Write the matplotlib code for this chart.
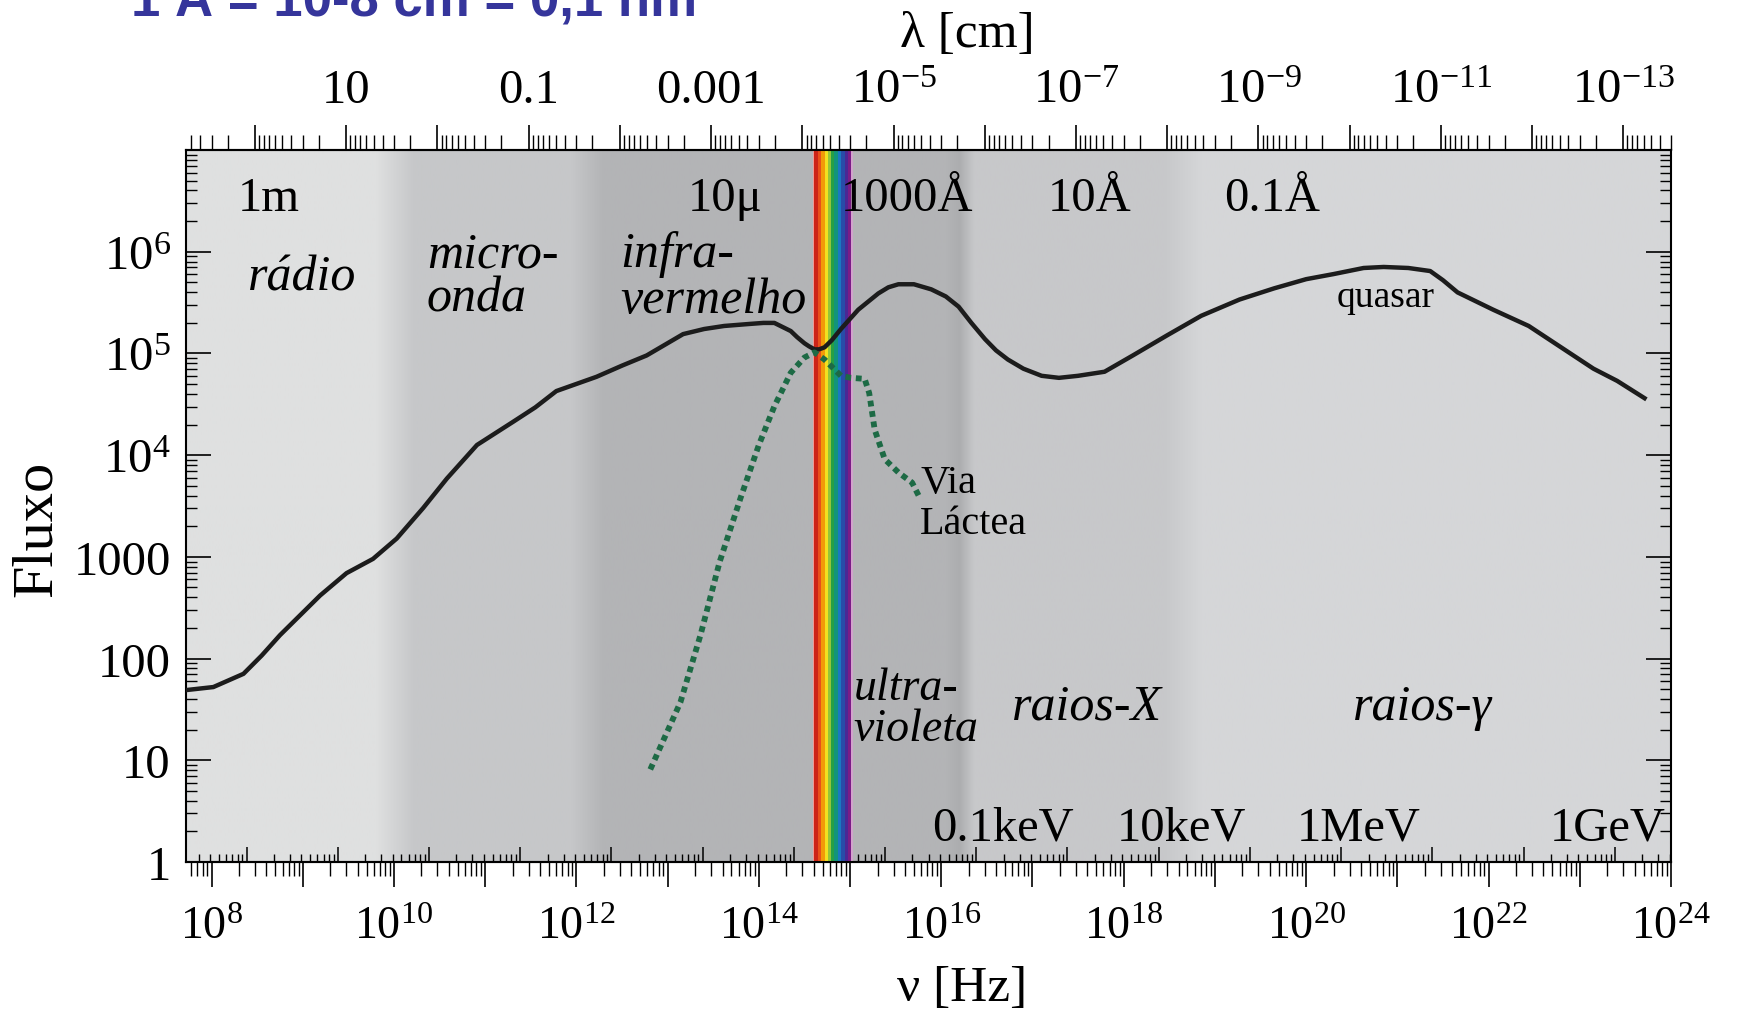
import numpy as np
import matplotlib.pyplot as plt
from matplotlib import ticker, font_manager
from matplotlib.colors import to_rgb

plt.rcParams['font.family'] = 'Liberation Serif'
plt.rcParams['mathtext.fontset'] = 'custom'
plt.rcParams['mathtext.rm'] = 'Liberation Serif'
plt.rcParams['mathtext.it'] = 'Liberation Serif:italic'

C_CM = 2.998e10      # speed of light [cm/s]
H_EV = 4.1357e-15    # Planck constant [eV s]

# quasar spectrum: log10(nu [Hz]) and log10(flux)
quasar_lognu = np.array([7.72, 8.02, 8.35, 8.55, 8.75, 9.19, 9.48, 9.77, 10.03, 10.32,
                         10.58, 10.91, 11.31, 11.55, 11.78, 12.22, 12.50, 12.77, 13.17, 13.40,
                         13.62, 13.90, 14.05, 14.17, 14.35, 14.42, 14.50, 14.55, 14.61, 14.66,
                         14.72, 14.80, 14.90, 15.00, 15.09, 15.31, 15.42, 15.53, 15.70, 15.89,
                         16.05, 16.19, 16.33, 16.48, 16.60, 16.73, 16.90, 17.10, 17.29, 17.50,
                         17.79, 18.10, 18.48, 18.85, 19.27, 19.65, 20.00, 20.30, 20.63, 20.85,
                         21.12, 21.36, 21.50, 21.66, 22.05, 22.44, 22.93, 23.15, 23.41, 23.71])
quasar_logflux = np.array([1.69, 1.72, 1.85, 2.03, 2.23, 2.62, 2.84, 2.98, 3.18, 3.48,
                           3.77, 4.10, 4.33, 4.47, 4.63, 4.77, 4.88, 4.98, 5.19, 5.24,
                           5.27, 5.29, 5.30, 5.30, 5.22, 5.16, 5.10, 5.07, 5.04, 5.04,
                           5.06, 5.13, 5.24, 5.34, 5.43, 5.59, 5.65, 5.68, 5.68, 5.63,
                           5.56, 5.46, 5.30, 5.14, 5.03, 4.94, 4.85, 4.78, 4.76, 4.78,
                           4.82, 4.98, 5.18, 5.37, 5.53, 5.64, 5.73, 5.78, 5.84, 5.85,
                           5.84, 5.81, 5.72, 5.60, 5.43, 5.27, 4.98, 4.85, 4.73, 4.56])

# Milky Way spectrum
milkyway_lognu = np.array([12.81, 12.98, 13.14, 13.36, 13.57, 13.80, 14.00, 14.17, 14.35, 14.50,
                           14.61, 14.72, 14.90, 15.01, 15.16, 15.21, 15.27, 15.38, 15.53, 15.68,
                           15.77])
milkyway_logflux = np.array([0.91, 1.25, 1.57, 2.23, 2.95, 3.58, 4.10, 4.48, 4.81, 4.96,
                             5.01, 4.94, 4.78, 4.76, 4.75, 4.61, 4.25, 3.96, 3.83, 3.73,
                             3.57])

lognu_min, lognu_max = 7.72, 24.0
flux_min, flux_max = 1.0, 1e7

flux_labels = ['1', '10', '100', '1000', r'$10^4$', r'$10^5$', r'$10^6$', '']

wavelength_marks = ['1m', '10μ', '1000Å', '10Å', '0.1Å']
wavelength_marks_cm = [1e2, 1e-3, 1e-5, 1e-7, 1e-9]

energy_marks = ['0.1keV', '10keV', '1MeV', '1GeV']
energy_mark_lognu = [16.68, 18.63, 20.58, 23.31]

# band names: text, log nu, log flux (baseline), alignment, size
band_names = [
    ('rádio', 8.99, 5.63, 'center', 36),
    ('micro-', 10.36, 5.85, 'left', 36),
    ('onda', 10.36, 5.42, 'left', 36),
    ('infra-', 12.48, 5.86, 'left', 36),
    ('vermelho', 12.48, 5.41, 'left', 36),
    ('ultra-', 15.04, 1.60, 'left', 33),
    ('violeta', 15.04, 1.20, 'left', 33),
    ('raios-X', 17.60, 1.41, 'center', 36),
    ('raios-γ', 21.28, 1.41, 'center', 36),
]

# shaded background behind the spectral bands
bg_stops = [
    (7.72, '#dfe0e0'), (9.80, '#dfe0e0'), (10.22, '#c6c7c9'), (11.94, '#c6c7c9'),
    (12.30, '#b3b4b6'), (16.05, '#b3b4b6'), (16.20, '#acadaf'), (16.36, '#c7c8ca'),
    (18.45, '#c7c8ca'), (18.85, '#d5d6d8'), (24.0, '#d5d6d8'),
]

visible_band = (14.59, 15.03)
visible_colors = ['#ee9a96', '#cc2418', '#e8501a', '#f29a08', '#f2e020', '#94c43a',
                  '#26a044', '#12947a', '#1a78c0', '#284ca8', '#4a2894', '#7a1c86', '#d2a2cc']
visible_weights = [0.4, 1.2, 1, 1, 1, 0.8, 1, 1, 1, 1, 1, 1, 0.4]


def nu_to_lambda(nu):
    nu = np.asarray(nu, dtype=float)
    with np.errstate(divide='ignore'):
        return C_CM / nu


def nu_to_ev(nu):
    return H_EV * np.asarray(nu, dtype=float)


def ev_to_nu(ev):
    return np.asarray(ev, dtype=float) / H_EV


def freq_label(v, pos):
    e = int(round(np.log10(v)))
    return rf'$10^{{{e}}}$' if e % 2 == 0 else ''


def lambda_label(v, pos):
    e = int(round(np.log10(v)))
    if e % 2 == 0:
        return ''
    if e == 1:
        return '10'
    if e >= -3:
        return f'{10.0 ** e:.{-e}f}'
    return rf'$10^{{{e}}}$'


W, H = 1738, 1012
fig = plt.figure(figsize=(W / 100, H / 100), dpi=100)
rect = [186 / W, 1 - 863 / H, (1671 - 186) / W, (863 - 151) / H]

# background gradient lives on its own axes in log10(nu) units
bg = fig.add_axes(rect, zorder=0)
xs = np.linspace(lognu_min, lognu_max, 1600)
stop_x = [s[0] for s in bg_stops]
stop_rgb = np.array([to_rgb(s[1]) for s in bg_stops])
rgb = np.stack([np.interp(xs, stop_x, stop_rgb[:, k]) for k in range(3)], axis=-1)
bg.imshow(rgb[np.newaxis, :, :], extent=(lognu_min, lognu_max, 0, 1), aspect='auto',
          interpolation='bilinear')
bg.set_xlim(lognu_min, lognu_max)
bg.set_ylim(0, 1)
bg.axis('off')

ax = fig.add_axes(rect, zorder=1)
ax.patch.set_alpha(0)
ax.set_xscale('log')
ax.set_yscale('log')
ax.set_xlim(10 ** lognu_min, 10 ** lognu_max)
ax.set_ylim(flux_min, flux_max)

# visible light strip
edges = visible_band[0] + (visible_band[1] - visible_band[0]) * np.concatenate(
    [[0], np.cumsum(visible_weights)]) / np.sum(visible_weights)
for lo, hi, c in zip(edges[:-1], edges[1:], visible_colors):
    ax.axvspan(10 ** lo, 10 ** hi, color=c, lw=0, zorder=1)

ax.plot(10 ** quasar_lognu, 10 ** quasar_logflux, color='#1c1c1c', lw=3.2,
        solid_joinstyle='round', zorder=3)
ax.plot(10 ** milkyway_lognu, 10 ** milkyway_logflux, color='#1d6a45', lw=4.2,
        ls=(0, (1.0, 0.8)), dash_capstyle='butt', zorder=3)

# frequency axis (bottom)
ax.xaxis.set_major_locator(ticker.FixedLocator(10.0 ** np.arange(8, 25)))
ax.xaxis.set_major_formatter(ticker.FuncFormatter(freq_label))
ax.xaxis.set_minor_locator(ticker.LogLocator(base=10, subs=np.arange(2, 10), numticks=60))
ax.xaxis.set_minor_formatter(ticker.NullFormatter())
ax.tick_params(axis='x', which='major', direction='out', length=18, width=1.2,
               labelsize=33, pad=13, top=False)
ax.tick_params(axis='x', which='minor', direction='out', length=10, width=1.0, top=False)

# flux axis, ticks on both sides pointing inward
ax.yaxis.set_major_locator(ticker.FixedLocator(10.0 ** np.arange(0, 8)))
ax.yaxis.set_major_formatter(ticker.FixedFormatter(flux_labels))
ax.yaxis.set_minor_locator(ticker.LogLocator(base=10, subs=np.arange(2, 10), numticks=60))
ax.yaxis.set_minor_formatter(ticker.NullFormatter())
ax.tick_params(axis='y', which='major', direction='in', length=18, width=1.2,
               labelsize=35, pad=11, left=True, right=True)
ax.tick_params(axis='y', which='minor', direction='in', length=8, width=1.0,
               left=True, right=True)

for sp in ax.spines.values():
    sp.set_linewidth(1.5)

# wavelength axis (top)
top = ax.secondary_xaxis('top', functions=(nu_to_lambda, nu_to_lambda))
top.xaxis.set_major_locator(ticker.FixedLocator(10.0 ** np.arange(-13, 3)))
top.xaxis.set_major_formatter(ticker.FuncFormatter(lambda_label))
top.xaxis.set_minor_locator(ticker.LogLocator(base=10, subs=np.arange(2, 10), numticks=60))
top.xaxis.set_minor_formatter(ticker.NullFormatter())
top.tick_params(which='major', direction='out', length=18, width=1.2, labelsize=35, pad=9)
top.tick_params(which='minor', direction='out', length=11, width=1.0)
top.spines['top'].set_linewidth(1.5)

# photon energy ticks along the bottom, pointing inward
energy = ax.secondary_xaxis('bottom', functions=(nu_to_ev, ev_to_nu))
energy.xaxis.set_major_locator(ticker.LogLocator(base=10, numticks=60))
energy.xaxis.set_minor_locator(ticker.LogLocator(base=10, subs=np.arange(2, 10), numticks=60))
energy.xaxis.set_major_formatter(ticker.NullFormatter())
energy.xaxis.set_minor_formatter(ticker.NullFormatter())
energy.tick_params(which='major', direction='in', length=11, width=1.1)
energy.tick_params(which='minor', direction='in', length=6, width=1.0)
energy.spines['bottom'].set_linewidth(1.5)

# wavelength marks inside the frame
for text, lam in zip(wavelength_marks, wavelength_marks_cm):
    ax.annotate(text, xy=(C_CM / lam, 10 ** 6.41), xytext=(10, 0), textcoords='offset points',
                ha='center', va='baseline', fontsize=35, zorder=4)

for text, lx, ly, ha, size in band_names:
    ax.text(10 ** lx, 10 ** ly, text, ha=ha, va='baseline', fontsize=size,
            style='italic', zorder=4)

for text, lx in zip(energy_marks, energy_mark_lognu):
    ax.text(10 ** lx, 10 ** 0.226, text, ha='center', va='baseline', fontsize=35, zorder=4)

ax.text(10 ** 20.87, 10 ** 5.47, 'quasar', ha='center', va='baseline', fontsize=27, zorder=4)
ax.text(10 ** 15.77, 10 ** 3.64, 'Via', ha='left', va='baseline', fontsize=29, zorder=4)
ax.text(10 ** 15.77, 10 ** 3.23, 'Láctea', ha='left', va='baseline', fontsize=29, zorder=4)

fig.text(967 / W, 1 - 47 / H, 'λ [cm]', ha='center', va='baseline', fontsize=37)
fig.text(962 / W, 1 - 1001 / H, 'ν [Hz]', ha='center', va='baseline', fontsize=37)
fig.text(37 / W, 1 - 529 / H, 'Fluxo', ha='center', va='center', rotation=90, fontsize=42)

installed = {f.name for f in font_manager.fontManager.ttflist}
if 'Liberation Sans Narrow' in installed:
    title_family, title_size = 'Liberation Sans Narrow', 46
else:
    title_family, title_size = 'Liberation Sans', 38
fig.text(131 / W, 1 - 16 / H, '1 Å = 10-8 cm = 0,1 nm', ha='left', va='baseline',
         fontsize=title_size, fontweight='bold', color='#35359b', family=title_family)

fig.savefig('out.png', dpi=100)
